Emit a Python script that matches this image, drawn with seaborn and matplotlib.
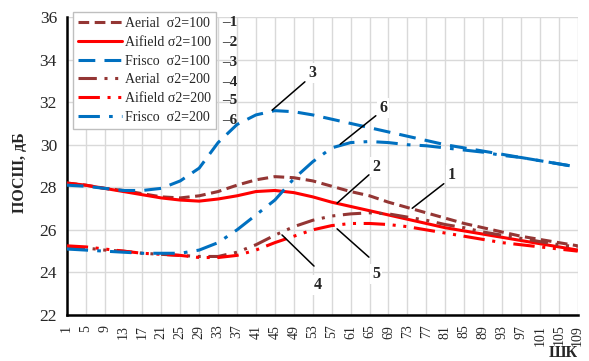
import numpy as np
import pandas as pd
import matplotlib
matplotlib.use("Agg")
import matplotlib.pyplot as plt
import seaborn as sns

# ---------------- data ----------------
x_vals = list(range(1, 110, 4))  # 1,5,...,109

aerial_100 = [28.2, 28.1, 27.95, 27.85, 27.7, 27.55, 27.5, 27.6, 27.8, 28.1, 28.35, 28.5, 28.45, 28.3,
              28.05, 27.8, 27.6, 27.3, 27.05, 26.8, 26.55, 26.3, 26.1, 25.9, 25.7, 25.55, 25.4, 25.25]
aifield_100 = [28.2, 28.1, 27.95, 27.8, 27.65, 27.5, 27.4, 27.35, 27.45, 27.6, 27.8, 27.85, 27.75, 27.55,
               27.3, 27.1, 26.9, 26.7, 26.5, 26.3, 26.1, 25.95, 25.8, 25.65, 25.5, 25.35, 25.2, 25.05]
frisco_100 = [28.1, 28.05, 27.95, 27.85, 27.85, 27.95, 28.3, 28.9, 30.1, 30.95, 31.4, 31.6, 31.55, 31.4,
              31.2, 31.0, 30.8, 30.6, 30.4, 30.2, 30.0, 29.85, 29.7, 29.55, 29.4, 29.25, 29.1, 28.95]
aerial_200 = [25.2, 25.15, 25.05, 25.0, 24.9, 24.85, 24.8, 24.75, 24.75, 24.95, 25.3, 25.75, 26.15, 26.45,
              26.65, 26.75, 26.8, 26.75, 26.6, 26.45, 26.25, 26.1, 25.9, 25.75, 25.6, 25.45, 25.3, 25.2]
aifield_200 = [25.25, 25.2, 25.1, 25.0, 24.9, 24.85, 24.8, 24.7, 24.7, 24.8, 25.05, 25.4, 25.7, 26.0,
               26.2, 26.3, 26.3, 26.25, 26.15, 26.0, 25.85, 25.7, 25.55, 25.4, 25.3, 25.2, 25.1, 25.0]
frisco_200 = [25.1, 25.05, 25.0, 24.95, 24.9, 24.9, 24.9, 25.05, 25.4, 26.0, 26.7, 27.4, 28.4, 29.2,
              29.85, 30.1, 30.15, 30.1, 30.0, 29.95, 29.85, 29.75, 29.65, 29.5, 29.4, 29.25, 29.1, 28.95]

series_names = ["Aerial  σ2=100", "Aifield σ2=100", "Frisco  σ2=100",
                "Aerial  σ2=200", "Aifield σ2=200", "Frisco  σ2=200"]
series_values = [aerial_100, aifield_100, frisco_100, aerial_200, aifield_200, frisco_200]
side_labels = ["–1", "–2", "–3", "–4", "–5", "–6"]
y_ticks = [22, 24, 26, 28, 30, 32, 34, 36]

# ---------------- styles ----------------
BROWN = "#943634"
RED = "#FF0000"
BLUE = "#0070C0"
colors = [BROWN, RED, BLUE, BROWN, RED, BLUE]
dash_styles = [(3.5, 1.8), "", (5.5, 3.0), (6, 2.5, 1, 2.5, 1, 2.5), (7, 2.5, 1, 2.5, 1, 2.5), (7, 3, 1.2, 3)]

rows = []
for name, vals in zip(series_names, series_values):
    for xv, yv in zip(x_vals, vals):
        rows.append({"x": xv, "y": yv, "series": name})
df = pd.DataFrame(rows)

sns.set_style("white")
plt.rcParams["font.family"] = ["Liberation Serif", "DejaVu Serif"]

fig = plt.figure(figsize=(5.89, 3.61), dpi=100)
ax = fig.add_axes([66.7 / 589, 1 - 315 / 361, (577.7 - 66.7) / 589, (315 - 17) / 361])

sns.lineplot(data=df, x="x", y="y", hue="series", style="series",
             hue_order=series_names, style_order=series_names,
             palette=dict(zip(series_names, colors)),
             dashes=dict(zip(series_names, dash_styles)),
             linewidth=2.2, ax=ax, legend=False, zorder=3)

ax.set_xlim(1, 109)
ax.set_ylim(22, 36)
ax.set_xticks(x_vals)
ax.set_xticklabels([str(v) for v in x_vals], rotation=90, fontsize=10)
ax.set_yticks(y_ticks)
ax.set_yticklabels([str(v) for v in y_ticks], fontsize=12.5)
ax.grid(True, color="#D9D9D9", linewidth=1.0, zorder=0)
ax.set_axisbelow(True)
for s in ["top", "right"]:
    ax.spines[s].set_visible(False)
for s in ["left", "bottom"]:
    ax.spines[s].set_color("black")
    ax.spines[s].set_linewidth(1.8)
ax.tick_params(axis="both", direction="out", length=5, width=1.5, color="black", pad=2)
ax.set_xlabel("")
ax.set_ylabel("")

fig.text(20 / 589, 1 - 173 / 361, "ПОСШ, дБ", rotation=90, ha="center", va="center",
         fontsize=11.5, fontweight="bold")
fig.text(563 / 589, 1 - 353 / 361, "ШК", ha="center", va="center", fontsize=11.5, fontweight="bold")

# legend
handles = ax.get_lines()[:6]
leg = fig.legend(handles, series_names, loc="upper left",
                 bbox_to_anchor=(73 / 589, 1 - 12 / 361), bbox_transform=fig.transFigure,
                 fontsize=10, frameon=True, fancybox=False, handlelength=3.2,
                 handletextpad=0.2, labelspacing=0.42, borderpad=0.35, borderaxespad=0)
leg.get_frame().set_edgecolor("#BFBFBF")
leg.get_frame().set_linewidth(1.0)
leg.get_frame().set_facecolor("white")
leg.get_frame().set_alpha(1)

side_y = [23, 43, 62, 82, 101, 121]
for lab, yy in zip(side_labels, side_y):
    fig.text(222 / 589, 1 - yy / 361, lab, ha="left", va="center", fontsize=11, fontweight="bold")

# annotations: (label, text position px, line start px, line end px)
ann = [("1", (452, 175), (446, 182), (410, 210)),
       ("2", (376, 167), (371, 173), (335, 205)),
       ("3", (312, 73), (307, 80), (270, 112)),
       ("4", (318, 285), (316, 268), (280, 233)),
       ("5", (376, 274), (371, 259), (335, 227)),
       ("6", (383, 108), (378, 114), (338, 146))]
for lab, tp, p0, p1 in ann:
    ax.annotate("", xy=(p1[0], 361 - p1[1]), xycoords="figure pixels",
                xytext=(p0[0], 361 - p0[1]), textcoords="figure pixels",
                arrowprops=dict(arrowstyle="-", color="black", lw=1.1), zorder=5)
    fig.text(tp[0] / 589, 1 - tp[1] / 361, lab, ha="center", va="center", fontsize=11.5,
             fontweight="bold", bbox=dict(facecolor="white", edgecolor="none", pad=1.5), zorder=6)

fig.savefig("out.png", dpi=100)
